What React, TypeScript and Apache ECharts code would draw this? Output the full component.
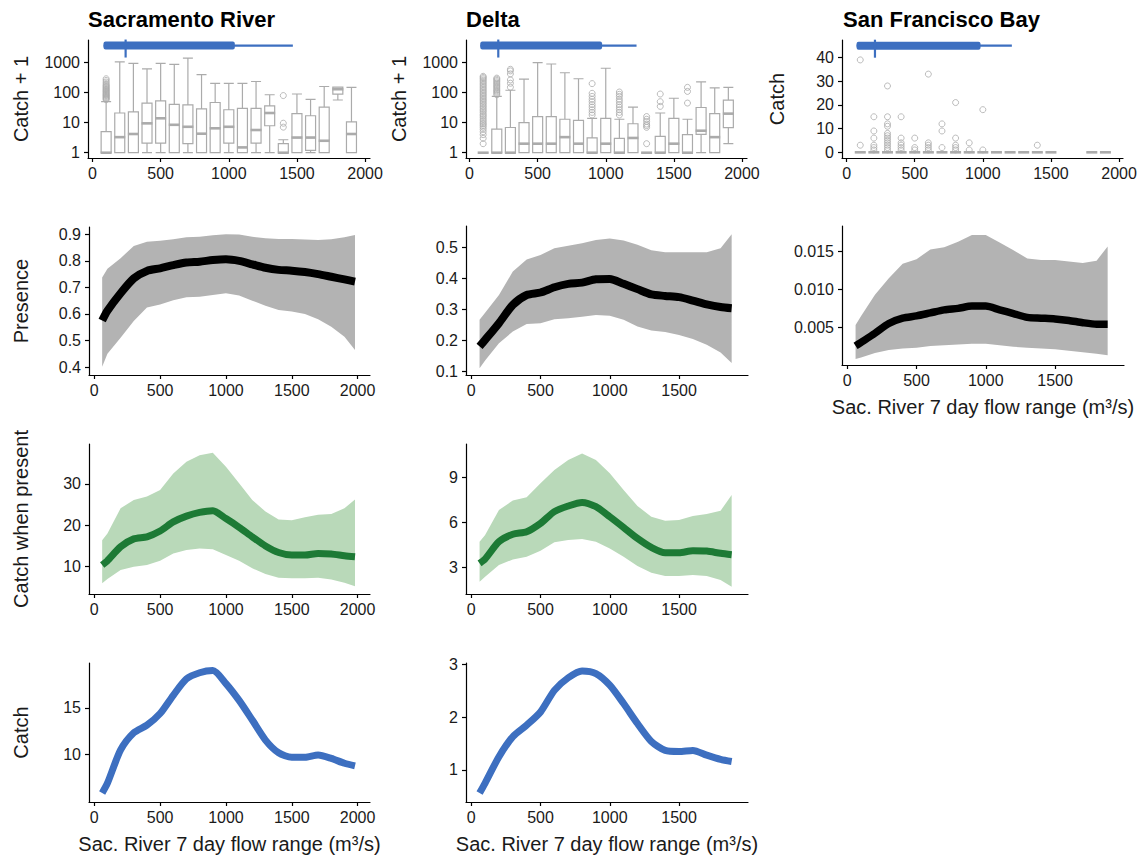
import React, { useEffect, useRef } from "react";
import * as echarts from "echarts";

const FONT = "Liberation Sans, Arial, Helvetica, sans-serif";
const GREY = "#ababab";
const BAND_GREY = "#b3b3b3";
const BAND_GREEN = "#b9d9b9";
const LINE_GREEN = "#1d7a35";
const BLUE = "#3d6fc0";

// ---------- Row 1: catch box plots (bins of Sac. River 7 day flow range) ----------
const BINS = [100, 200, 300, 400, 500, 600, 700, 800, 900, 1000, 1100, 1200, 1300, 1400, 1500, 1600, 1700, 1800, 1900];

// [lower whisker, Q1, median, Q3, upper whisker] of catch + 1
const SAC_BOX = [
  [1, 1, 1, 5, 50],
  [1, 1, 3.3, 21, 1050],
  [1, 1, 4.2, 23, 950],
  [1, 2.1, 9.5, 45, 620],
  [1, 2.1, 14, 53, 950],
  [1, 1, 8.5, 41, 880],
  [1, 2, 7.3, 39, 1400],
  [1, 1, 4.3, 29, 400],
  [1, 1, 6.5, 47, 205],
  [1, 2.1, 7.3, 27, 205],
  [1, 1, 1.5, 30, 205],
  [1, 2.1, 5.7, 30, 235],
  [1, 7.9, 21, 36, 85],
  [1, 1, 1, 2, 2.7],
  [1, 1, 3.2, 20, 90],
  [1, 1.2, 3.2, 17, 60],
  [1, 1, 2.5, 33, 160],
  [57, 89, 130, 152, 152],
  [1, 1, 4.2, 10.7, 150],
];
const SAC_OUTLIERS: [number, number][] = [
  [100, 58], [100, 62], [100, 66], [100, 70], [100, 75], [100, 80], [100, 85], [100, 90], [100, 96],
  [100, 103], [100, 110], [100, 118], [100, 126], [100, 135], [100, 145], [100, 156], [100, 168],
  [100, 180], [100, 200], [100, 225], [100, 255], [100, 290],
  [1400, 7.1], [1400, 9.6], [1400, 80],
];

const DELTA_BOX = [
  [1, 1, 1, 1, 1],
  [1, 1, 1, 6.1, 75],
  [1, 1, 1, 6.9, 120],
  [1, 1, 2, 10, 280],
  [1, 1, 2, 16, 1000],
  [1, 1, 2, 16, 900],
  [1, 1, 3.3, 13, 460],
  [1, 1, 2, 12, 290],
  [1, 1, 1, 3.1, 14],
  [1, 1, 2, 14, 650],
  [1, 1, 1, 3, 13],
  [1, 1, 3.1, 9.2, 33],
  [1, 1, 1, 1, 1],
  [1, 1, 1, 3.5, 21],
  [1, 1, 2, 14, 65],
  [1, 1, 1, 4, 13],
  [1, 4.1, 5.4, 32, 228],
  [1, 1, 3.3, 20, 144],
  [2, 6.8, 20, 56, 150],
];
const DELTA_OUTLIERS: [number, number][] = [
  [100, 2], [100, 3], [100, 4], [100, 5], [100, 6], [100, 7], [100, 8], [100, 9], [100, 10], [100, 11.5],
  [100, 13], [100, 15], [100, 17], [100, 19], [100, 22], [100, 25], [100, 28], [100, 32], [100, 36],
  [100, 41], [100, 46], [100, 52], [100, 58], [100, 65], [100, 73], [100, 82], [100, 92], [100, 103],
  [100, 116], [100, 130], [100, 146], [100, 164], [100, 184], [100, 206], [100, 232], [100, 260],
  [100, 290], [100, 320], [100, 350],
  [200, 85], [200, 95], [200, 105], [200, 115], [200, 126], [200, 140], [200, 155], [200, 170],
  [200, 188], [200, 208], [200, 230], [200, 255], [200, 280], [200, 305],
  [300, 152], [300, 206], [300, 265], [300, 420], [300, 530], [300, 600],
  [900, 18], [900, 22], [900, 27], [900, 33], [900, 40], [900, 50], [900, 60], [900, 75], [900, 95], [900, 200],
  [1100, 18], [1100, 22], [1100, 27], [1100, 33], [1100, 40], [1100, 50], [1100, 60], [1100, 75], [1100, 88], [1100, 105],
  [1300, 2], [1300, 7], [1300, 8], [1300, 9], [1300, 11], [1300, 13], [1300, 16],
  [1400, 35], [1400, 50], [1400, 90],
  [1600, 45], [1600, 110], [1600, 150],
];

const SFB_BINS = [100, 200, 300, 400, 500, 600, 700, 800, 900, 1000, 1100, 1200, 1300, 1400, 1500, 1800, 1900];
const SFB_BOX = SFB_BINS.map(() => [0, 0, 0, 0, 0]);
const SFB_OUTLIERS: [number, number][] = [
  [100, 3], [100, 39],
  [200, 1], [200, 2], [200, 3], [200, 6], [200, 9], [200, 15],
  [300, 1], [300, 2], [300, 3], [300, 4], [300, 5], [300, 6], [300, 7], [300, 8], [300, 11], [300, 12], [300, 15], [300, 28],
  [400, 1], [400, 2], [400, 3], [400, 4], [400, 6], [400, 15],
  [500, 1], [500, 2], [500, 6],
  [600, 1], [600, 2], [600, 3], [600, 4], [600, 33],
  [700, 2], [700, 9], [700, 12],
  [800, 1], [800, 2], [800, 3], [800, 6], [800, 21],
  [900, 1], [900, 4],
  [1000, 1], [1000, 18],
  [1400, 3],
];

// Flow-range summary bars: [min, Q1, median, Q3, max] (m3/s)
const SAC_FLOW = [81, 81, 243, 1044, 1470];
const DELTA_FLOW = [79, 79, 211, 973, 1226];
const SFB_FLOW = [73, 73, 208, 983, 1213];

// ---------- Model curves ----------
const X_SAC = [60, 100, 200, 300, 400, 500, 600, 700, 800, 900, 1000, 1100, 1200, 1300, 1400, 1500, 1600, 1700, 1800, 1900, 1980];
const X_OTHER = [60, 100, 200, 300, 400, 500, 600, 700, 800, 900, 1000, 1100, 1200, 1300, 1400, 1500, 1600, 1700, 1800, 1880];

const SAC_PRES = [0.575, 0.612, 0.678, 0.734, 0.762, 0.772, 0.784, 0.794, 0.797, 0.803, 0.806, 0.8, 0.787, 0.774, 0.766, 0.763, 0.758, 0.75, 0.74, 0.73, 0.722];
const SAC_PRES_HI = [0.737, 0.77, 0.81, 0.856, 0.872, 0.876, 0.881, 0.889, 0.891, 0.896, 0.9, 0.899, 0.891, 0.885, 0.882, 0.882, 0.88, 0.879, 0.881, 0.889, 0.897];
const SAC_PRES_LO = [0.401, 0.45, 0.51, 0.573, 0.624, 0.636, 0.652, 0.663, 0.665, 0.671, 0.678, 0.669, 0.65, 0.631, 0.615, 0.609, 0.6, 0.58, 0.552, 0.514, 0.464];

const DELTA_PRES = [0.181, 0.202, 0.256, 0.315, 0.347, 0.355, 0.372, 0.383, 0.387, 0.398, 0.399, 0.383, 0.366, 0.349, 0.344, 0.34, 0.329, 0.317, 0.308, 0.304];
const DELTA_PRES_HI = [0.267, 0.29, 0.347, 0.423, 0.462, 0.476, 0.498, 0.506, 0.514, 0.525, 0.53, 0.523, 0.509, 0.492, 0.485, 0.485, 0.485, 0.485, 0.498, 0.543];
const DELTA_PRES_LO = [0.11, 0.135, 0.191, 0.229, 0.253, 0.256, 0.269, 0.272, 0.277, 0.282, 0.28, 0.267, 0.245, 0.232, 0.227, 0.218, 0.205, 0.186, 0.161, 0.127];

const SFB_PRES = [0.00253, 0.003, 0.0042, 0.0055, 0.0062, 0.0065, 0.0069, 0.0073, 0.0075, 0.0078, 0.0078, 0.0073, 0.0068, 0.0063, 0.0062, 0.0061, 0.0059, 0.0056, 0.0054, 0.0054];
const SFB_PRES_HI = [0.0053, 0.0065, 0.0093, 0.0115, 0.0134, 0.014, 0.0153, 0.0156, 0.0163, 0.0172, 0.0172, 0.0162, 0.0152, 0.0141, 0.0139, 0.0139, 0.0137, 0.0135, 0.0138, 0.0157];
const SFB_PRES_LO = [0.0008, 0.001, 0.0016, 0.002, 0.0022, 0.0023, 0.0025, 0.0026, 0.0027, 0.0028, 0.0028, 0.0026, 0.0024, 0.0023, 0.0022, 0.0021, 0.0019, 0.0017, 0.0015, 0.0013];

const SAC_CWP = [10.4, 11.45, 14.8, 16.7, 17.2, 18.6, 20.8, 22.2, 23.1, 23.5, 21.6, 19.5, 17.2, 15.0, 13.4, 12.8, 12.8, 13.2, 13.05, 12.65, 12.4];
const SAC_CWP_HI = [16.4, 18, 24.1, 26.1, 26.9, 28.5, 32.5, 35.3, 36.9, 37.5, 34.1, 30.1, 26.1, 23.3, 21.4, 21.2, 21.9, 22.5, 22.7, 24.1, 26.2];
const SAC_CWP_LO = [6, 7, 9.2, 10, 10.4, 11.4, 13.2, 14, 14.4, 14.2, 12.8, 11.4, 9.6, 8.2, 7.3, 7.2, 7.2, 7.3, 6.9, 6.1, 5.3];

const DELTA_CWP = [3.25, 3.54, 4.7, 5.2, 5.37, 5.93, 6.72, 7.1, 7.34, 7.05, 6.38, 5.66, 4.92, 4.32, 3.96, 3.96, 4.1, 4.07, 3.92, 3.83];
const DELTA_CWP_HI = [4.7, 5.15, 6.83, 7.46, 7.68, 8.62, 9.51, 10.19, 10.63, 10.19, 9.29, 8.17, 7.1, 6.38, 6.11, 6.16, 6.43, 6.56, 6.78, 7.84];
const DELTA_CWP_LO = [2.01, 2.35, 3.13, 3.51, 3.69, 4.1, 4.66, 4.81, 4.88, 4.7, 4.25, 3.69, 3.07, 2.62, 2.4, 2.4, 2.46, 2.4, 2.13, 1.68];

const SAC_CATCH = [5.9, 6.95, 10.5, 12.34, 13.16, 14.4, 16.35, 18.1, 18.76, 19.0, 17.6, 15.8, 13.7, 11.56, 10.2, 9.72, 9.72, 9.96, 9.6, 9.08, 8.8];
const DELTA_CATCH = [0.56, 0.75, 1.25, 1.63, 1.85, 2.1, 2.51, 2.75, 2.88, 2.83, 2.61, 2.26, 1.88, 1.54, 1.37, 1.35, 1.37, 1.28, 1.2, 1.16];

// tick labels
const X_TICKS_2000 = [0, 500, 1000, 1500, 2000];
const X_TICKS_1500 = [0, 500, 1000, 1500];
const LOG_TICKS = [1, 10, 100, 1000];
const SFB_CATCH_TICKS = [0, 10, 20, 30, 40];
const SAC_PRES_TICKS = [0.4, 0.5, 0.6, 0.7, 0.8, 0.9];
const DELTA_PRES_TICKS = [0.1, 0.2, 0.3, 0.4, 0.5];
const SFB_PRES_TICKS = [0.005, 0.01, 0.015];
const SAC_CWP_TICKS = [10, 20, 30];
const DELTA_CWP_TICKS = [3, 6, 9];
const SAC_CATCH_TICKS = [10, 15];
const DELTA_CATCH_TICKS = [1, 2, 3];

const X_NAME = "Sac. River 7 day flow range (m³/s)";

function axisBase() {
  return {
    axisLine: { show: true, onZero: false, lineStyle: { color: "#000", width: 1.2 } },
    splitLine: { show: false },
  };
}

function xAxis(gi: number, min: number, max: number, ticks: number[], withName = false) {
  return {
    ...axisBase(),
    type: "value",
    gridIndex: gi,
    min,
    max,
    axisTick: { show: true, length: 4, customValues: ticks, lineStyle: { color: "#000", width: 1.2 } },
    axisLabel: {
      customValues: ticks,
      color: "#1a1a1a",
      fontSize: 16,
      fontFamily: FONT,
      margin: 7,
      formatter: (v: number) => String(v),
    },
    name: withName ? X_NAME : "",
    nameLocation: "middle",
    nameGap: 32,
    nameTextStyle: { fontSize: 20, fontFamily: FONT, color: "#1a1a1a" },
  };
}

function yAxis(
  gi: number,
  type: string,
  min: number,
  max: number,
  ticks: number[],
  fmt: (v: number) => string,
  name = "",
  gap = 57
) {
  return {
    ...axisBase(),
    type,
    gridIndex: gi,
    min,
    max,
    logBase: 10,
    axisTick: { show: true, length: 4, customValues: ticks, lineStyle: { color: "#000", width: 1.2 } },
    axisLabel: {
      customValues: ticks,
      color: "#1a1a1a",
      fontSize: 16,
      fontFamily: FONT,
      margin: 8,
      formatter: fmt,
    },
    name,
    nameLocation: "middle",
    nameRotate: 90,
    nameGap: gap,
    nameTextStyle: { fontSize: 20, fontFamily: FONT, color: "#1a1a1a" },
  };
}

const fmtInt = (v: number) => String(Math.round(v));
const fmt1 = (v: number) => v.toFixed(1);
const fmt3 = (v: number) => v.toFixed(3);

function bandSeries(gi: number, xs: number[], lo: number[], hi: number[], fill: string) {
  return {
    type: "custom",
    xAxisIndex: gi,
    yAxisIndex: gi,
    silent: true,
    z: 1,
    data: xs.map((x, i) => [x, lo[i], hi[i]]),
    encode: { x: 0, y: [1, 2] },
    renderItem: (params: any, api: any) => {
      if (params.dataIndex !== 0) return null;
      const top = xs.map((x, i) => api.coord([x, hi[i]]));
      const bottom = xs.map((x, i) => api.coord([x, lo[i]])).reverse();
      return { type: "polygon", shape: { points: top.concat(bottom) }, style: { fill } };
    },
  };
}

function lineSeries(gi: number, xs: number[], ys: number[], color: string, width: number) {
  return {
    type: "line",
    xAxisIndex: gi,
    yAxisIndex: gi,
    silent: true,
    z: 3,
    showSymbol: false,
    smooth: 0.25,
    data: xs.map((x, i) => [x, ys[i]]),
    lineStyle: { color, width, cap: "butt", join: "round" },
  };
}

function boxSeries(gi: number, bins: number[], boxes: number[][]) {
  return {
    type: "boxplot",
    xAxisIndex: gi,
    yAxisIndex: gi,
    silent: true,
    z: 2,
    boxWidth: [10, 10],
    data: bins.map((b, i) => [b, ...boxes[i]]),
    itemStyle: { color: "#fff", borderColor: GREY, borderWidth: 1.2 },
  };
}

function medianSeries(gi: number, bins: number[], boxes: number[][]) {
  return {
    type: "custom",
    xAxisIndex: gi,
    yAxisIndex: gi,
    silent: true,
    z: 3,
    data: bins.map((b, i) => [b, boxes[i][2]]),
    encode: { x: 0, y: 1 },
    renderItem: (_p: any, api: any) => {
      const c = api.coord([api.value(0), api.value(1)]);
      return {
        type: "line",
        shape: { x1: c[0] - 5.5, y1: c[1], x2: c[0] + 5.5, y2: c[1] },
        style: { stroke: GREY, lineWidth: 2.6 },
      };
    },
  };
}

function outlierSeries(gi: number, pts: [number, number][]) {
  return {
    type: "scatter",
    xAxisIndex: gi,
    yAxisIndex: gi,
    silent: true,
    z: 2,
    symbol: "circle",
    symbolSize: 6,
    data: pts,
    itemStyle: { color: "rgba(0,0,0,0)", borderColor: GREY, borderWidth: 1 },
  };
}

function flowSeries(gi: number, flow: number[], yLevel: number) {
  return {
    type: "custom",
    xAxisIndex: gi,
    yAxisIndex: gi,
    silent: true,
    z: 6,
    data: [[...flow, yLevel]],
    encode: { x: [0, 1, 2, 3, 4], y: 5 },
    renderItem: (_p: any, api: any) => {
      const yv = api.value(5);
      const p = [0, 1, 2, 3, 4].map((k) => api.coord([api.value(k), yv]));
      const y = p[0][1];
      return {
        type: "group",
        children: [
          { type: "line", shape: { x1: p[0][0], y1: y, x2: p[4][0], y2: y }, style: { stroke: BLUE, lineWidth: 2.2 } },
          { type: "rect", shape: { x: p[1][0], y: y - 4, width: p[3][0] - p[1][0], height: 8, r: 2 }, style: { fill: BLUE } },
          { type: "line", shape: { x1: p[2][0], y1: y - 6, x2: p[2][0], y2: y + 12 }, style: { stroke: BLUE, lineWidth: 2.2 } },
        ],
      };
    },
  };
}

export default function App() {
  const ref = useRef<HTMLDivElement>(null);

  useEffect(() => {
    if (!ref.current) return;
    const chart = echarts.init(ref.current, null, { renderer: "svg" });

    const grids = [
      { left: 88, top: 40, width: 282, height: 118 },
      { left: 466, top: 40, width: 281, height: 118 },
      { left: 842, top: 40, width: 281, height: 118 },
      { left: 89, top: 227, width: 281, height: 148 },
      { left: 466, top: 226, width: 282, height: 149 },
      { left: 842, top: 226, width: 282, height: 139 },
      { left: 89, top: 444, width: 281, height: 150 },
      { left: 466, top: 444, width: 282, height: 150 },
      { left: 89, top: 663, width: 281, height: 139 },
      { left: 466, top: 663, width: 282, height: 139 },
    ].map((g) => ({ ...g, containLabel: false }));

    const xAxes = [
      xAxis(0, -33, 2036, X_TICKS_2000),
      xAxis(1, -26, 2037, X_TICKS_2000),
      xAxis(2, -34, 2029, X_TICKS_2000),
      xAxis(3, -40, 2094, X_TICKS_2000),
      xAxis(4, -38, 1998, X_TICKS_1500),
      xAxis(5, -38, 1998, X_TICKS_1500, true),
      xAxis(6, -40, 2094, X_TICKS_2000),
      xAxis(7, -38, 1998, X_TICKS_1500),
      xAxis(8, -40, 2094, X_TICKS_2000, true),
      xAxis(9, -38, 1998, X_TICKS_1500, true),
    ];

    const yAxes = [
      yAxis(0, "log", 0.667, 5660, LOG_TICKS, fmtInt, "Catch + 1", 57),
      yAxis(1, "log", 0.667, 5660, LOG_TICKS, fmtInt, "Catch + 1", 57),
      yAxis(2, "value", -2.4, 47.4, SFB_CATCH_TICKS, fmtInt, "Catch", 55),
      yAxis(3, "value", 0.37, 0.9275, SAC_PRES_TICKS, fmt1, "Presence", 58),
      yAxis(4, "value", 0.0884, 0.57, DELTA_PRES_TICKS, fmt1),
      yAxis(5, "value", 0, 0.0184, SFB_PRES_TICKS, fmt3),
      yAxis(6, "value", 3.4, 39.6, SAC_CWP_TICKS, fmtInt, "Catch when present", 58),
      yAxis(7, "value", 1.19, 11.26, DELTA_CWP_TICKS, fmtInt),
      yAxis(8, "value", 4.94, 19.8, SAC_CATCH_TICKS, fmtInt, "Catch", 58),
      yAxis(9, "value", 0.39, 3.03, DELTA_CATCH_TICKS, fmtInt),
    ];

    const series = [
      boxSeries(0, BINS, SAC_BOX),
      medianSeries(0, BINS, SAC_BOX),
      outlierSeries(0, SAC_OUTLIERS),
      flowSeries(0, SAC_FLOW, 3700),
      boxSeries(1, BINS, DELTA_BOX),
      medianSeries(1, BINS, DELTA_BOX),
      outlierSeries(1, DELTA_OUTLIERS),
      flowSeries(1, DELTA_FLOW, 3700),
      boxSeries(2, SFB_BINS, SFB_BOX),
      medianSeries(2, SFB_BINS, SFB_BOX),
      outlierSeries(2, SFB_OUTLIERS),
      flowSeries(2, SFB_FLOW, 45),

      bandSeries(3, X_SAC, SAC_PRES_LO, SAC_PRES_HI, BAND_GREY),
      lineSeries(3, X_SAC, SAC_PRES, "#000", 8),
      bandSeries(4, X_OTHER, DELTA_PRES_LO, DELTA_PRES_HI, BAND_GREY),
      lineSeries(4, X_OTHER, DELTA_PRES, "#000", 8),
      bandSeries(5, X_OTHER, SFB_PRES_LO, SFB_PRES_HI, BAND_GREY),
      lineSeries(5, X_OTHER, SFB_PRES, "#000", 7.5),

      bandSeries(6, X_SAC, SAC_CWP_LO, SAC_CWP_HI, BAND_GREEN),
      lineSeries(6, X_SAC, SAC_CWP, LINE_GREEN, 7),
      bandSeries(7, X_OTHER, DELTA_CWP_LO, DELTA_CWP_HI, BAND_GREEN),
      lineSeries(7, X_OTHER, DELTA_CWP, LINE_GREEN, 7),

      lineSeries(8, X_SAC, SAC_CATCH, BLUE, 7),
      lineSeries(9, X_OTHER, DELTA_CATCH, BLUE, 7),
    ];

    const titleStyle = { fontSize: 22, fontWeight: "bold", fontFamily: FONT, color: "#000" };

    chart.setOption({
      animation: false,
      backgroundColor: "#fff",
      textStyle: { fontFamily: FONT },
      title: [
        { text: "Sacramento River", left: 83, top: 3, textStyle: titleStyle },
        { text: "Delta", left: 461, top: 3, textStyle: titleStyle },
        { text: "San Francisco Bay", left: 838, top: 3, textStyle: titleStyle },
      ],
      grid: grids,
      xAxis: xAxes,
      yAxis: yAxes,
      series,
    });

    return () => chart.dispose();
  }, []);

  return (
    <div
      ref={ref}
      style={{ position: "fixed", left: 0, top: 0, width: 1140, height: 859, background: "#fff" }}
    />
  );
}
